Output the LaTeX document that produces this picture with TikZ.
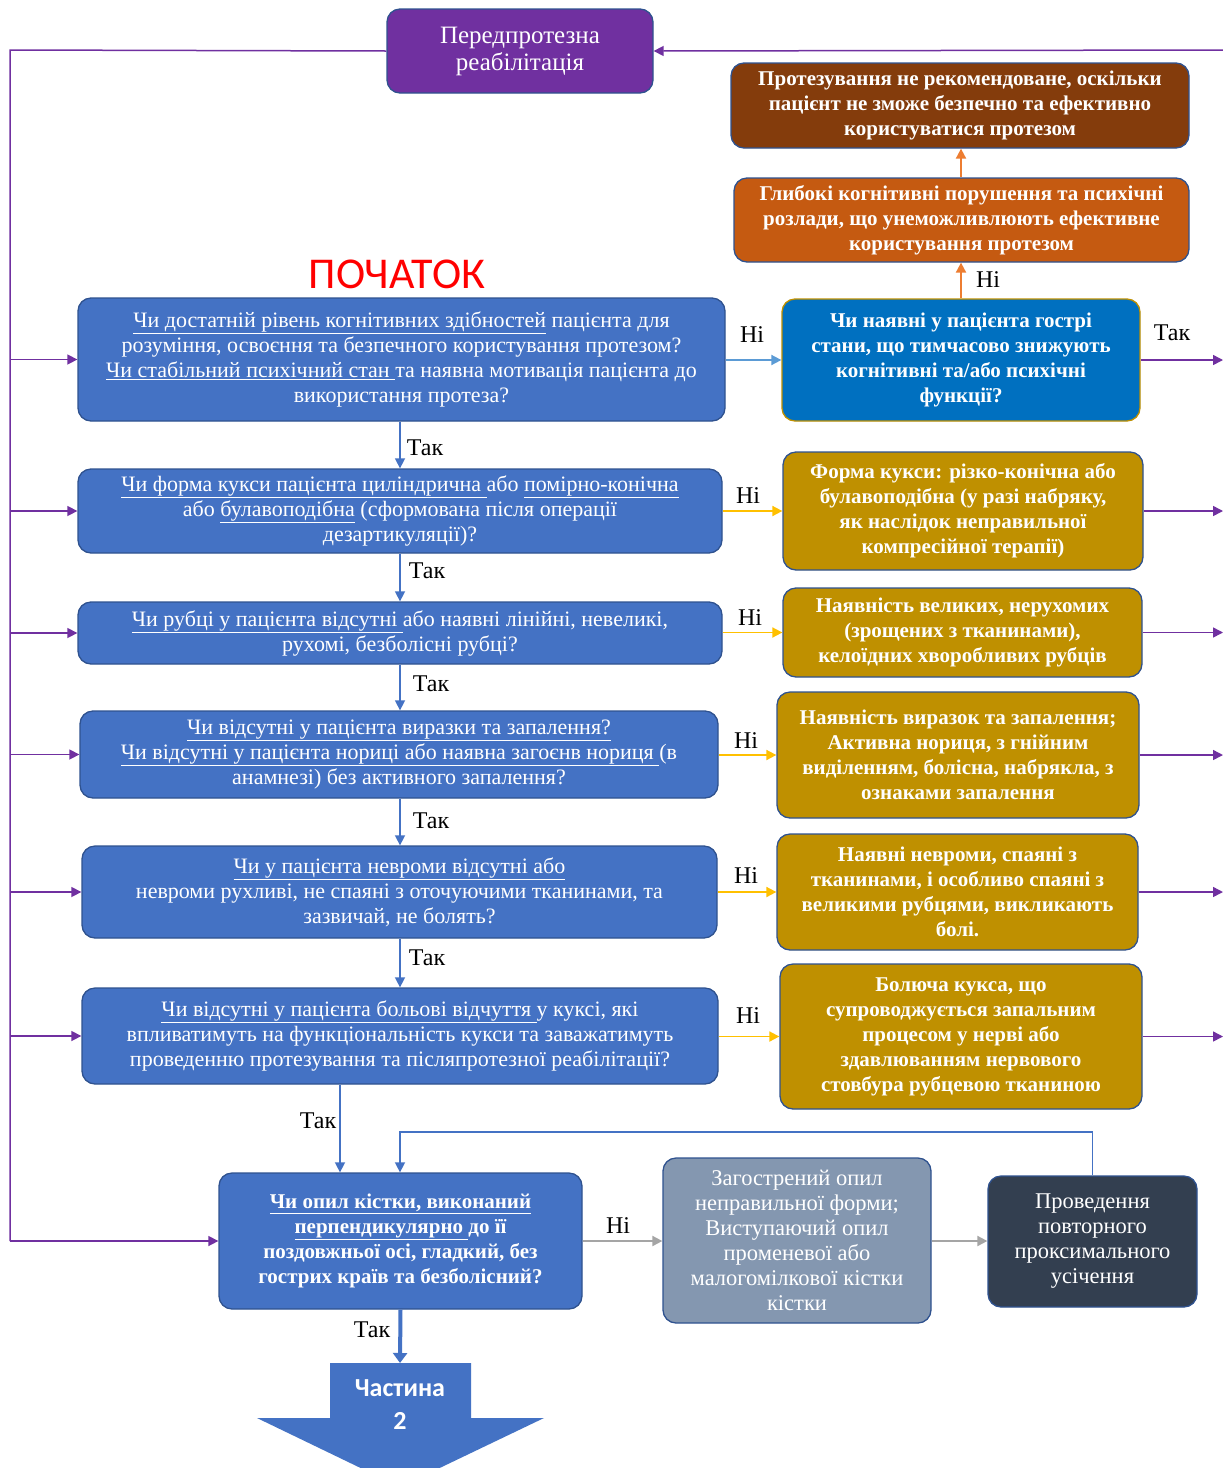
\documentclass[tikz,border=0pt]{standalone}
\usepackage{fontspec}
\setmainfont{Liberation Serif}
\newfontfamily\carlito{Carlito}
\usetikzlibrary{arrows.meta}
\definecolor{qblue}{HTML}{4472C4}
\definecolor{qborder}{HTML}{2F528F}
\definecolor{ppl}{HTML}{7030A0}
\definecolor{brn}{HTML}{843C0C}
\definecolor{orng}{HTML}{C55A11}
\definecolor{acblue}{HTML}{0070C0}
\definecolor{gold}{HTML}{BF9000}
\definecolor{gblue}{HTML}{8497B0}
\definecolor{dark}{HTML}{333F50}
\definecolor{yel}{HTML}{FFC000}
\definecolor{lblue}{HTML}{5B9BD5}
\definecolor{gry}{HTML}{A5A5A5}
\definecolor{oarr}{HTML}{ED7D31}
\tikzset{
  box/.style={rounded corners=13pt, draw=qborder, line width=1.3pt, align=center, text=white, inner sep=2pt},
  qbox/.style={box, fill=qblue, font=\fontsize{22}{25}\selectfont},
  rbox/.style={box, font=\bfseries\fontsize{21}{25}\selectfont},
  lbl/.style={font=\fontsize{24}{26}\selectfont, text=black, inner sep=0pt},
  tipp/.style={-{Triangle[length=10pt,width=10pt]}},
  parrow/.style={draw=ppl, line width=1.5pt, tipp},
  yarrow/.style={draw=yel, line width=1.8pt, tipp},
  lbarrow/.style={draw=lblue, line width=1.8pt, tipp},
  garrow/.style={draw=gry, line width=2pt, tipp},
  oarrow/.style={draw=oarr, line width=2pt, tipp},
  barrow/.style={draw=qblue, line width=1.5pt, tipp},
}
\begin{document}
\begin{tikzpicture}[x=1pt,y=-1pt]
\useasboundingbox (0,0) rectangle (1223,1468);
\clip (0,0) rectangle (1223,1468);
\fill[white] (0,0) rectangle (1223,1468);

% nodes
\node[box, fill=ppl, font=\fontsize{25}{27}\selectfont, minimum width=266pt, minimum height=84pt] (pre) at (520,51) {Передпротезна\\реабілітація};
\node[rbox, fill=brn, minimum width=458pt, minimum height=85pt] (brown) at (960,105.5) {Протезування не рекомендоване, оскільки\\пацієнт не зможе безпечно та ефективно\\користуватися протезом};
\node[rbox, fill=orng, minimum width=455pt, minimum height=84pt] (orange) at (961.5,220) {Глибокі когнітивні порушення та психічні\\розлади, що унеможливлюють ефективне\\користування протезом};
\node[text=red, font=\carlito\fontsize{44}{46}\selectfont, inner sep=0pt] (start) at (397,274) {ПОЧАТОК};

\node[qbox, minimum width=647pt, minimum height=123pt] (q1) at (401.5,359.5) {\underline{Чи достатній рівень когнітивних здібностей} пацієнта для\\розуміння, освоєння та безпечного користування протезом?\\\underline{Чи стабільний психічний стан }та наявна мотивація пацієнта до\\використання протеза?};
\node[rbox, fill=acblue, draw=gold, minimum width=358pt, minimum height=122pt] (ac) at (961,360) {Чи наявні у пацієнта гострі\\стани, що тимчасово знижують\\когнітивні та/або психічні\\функції?};

\node[qbox, minimum width=644pt, minimum height=84pt] (q2) at (400,511) {\underline{Чи форма кукси пацієнта циліндрична }або \underline{помірно-конічна}\\або \underline{булавоподібна} (сформована після операції\\дезартикуляції)?};
\node[rbox, fill=gold, minimum width=360pt, minimum height=118pt] (g2) at (963,511) {Форма кукси: різко-конічна або\\булавоподібна (у разі набряку,\\як наслідок неправильної\\компресійної терапії)};

\node[qbox, minimum width=644pt, minimum height=62pt] (q3) at (400,633) {\underline{Чи рубці у пацієнта відсутні }або наявні лінійні, невеликі,\\рухомі, безболісні рубці?};
\node[rbox, fill=gold, minimum width=359pt, minimum height=89pt] (g3) at (962.5,632.5) {Наявність великих, нерухомих\\(зрощених з тканинами),\\келоїдних хворобливих рубців};

\node[qbox, minimum width=638pt, minimum height=87pt] (q4) at (399,754.5) {\underline{Чи відсутні у пацієнта виразки та запалення?}\\\underline{Чи відсутні у пацієнта нориці або наявна загоєнв нориця }(в\\анамнезі) без активного запалення?};
\node[rbox, fill=gold, minimum width=362pt, minimum height=126pt] (g4) at (958,755) {Наявність виразок та запалення;\\Активна нориця, з гнійним\\виділенням, болісна, набрякла, з\\ознаками запалення};

\node[qbox, minimum width=635pt, minimum height=92pt] (q5) at (399.5,892) {\underline{Чи у пацієнта невроми відсутні або}\\невроми рухливі, не спаяні з оточуючими тканинами, та\\зазвичай, не болять?};
\node[rbox, fill=gold, minimum width=361pt, minimum height=116pt] (g5) at (957.5,892) {Наявні невроми, спаяні з\\тканинами, і особливо спаяні з\\великими рубцями, викликають\\болі.};

\node[qbox, minimum width=636pt, minimum height=96pt] (q6) at (400,1036) {\underline{Чи відсутні у пацієнта больові відчуття }у куксі, які\\впливатимуть на функціональність кукси та заважатимуть\\проведенню протезування та післяпротезної реабілітації?};
\node[rbox, fill=gold, minimum width=362pt, minimum height=145pt] (g6) at (961,1036.5) {Болюча кукса, що\\супроводжується запальним\\процесом у нерві або\\здавлюванням нервового\\стовбура рубцевою тканиною};

\node[rbox, fill=qblue, minimum width=363pt, minimum height=136pt] (q7) at (400.5,1241) {\underline{Чи опил кістки, виконаний}\\\underline{перпендикулярно }до її\\поздовжньої осі, гладкий, без\\гострих країв та безболісний?};
\node[box, fill=gblue, font=\fontsize{22.5}{25}\selectfont, minimum width=268pt, minimum height=165pt] (grey) at (797,1240.5) {Загострений опил\\неправильної форми;\\Виступаючий опил\\променевої або\\малогомілкової кістки\\кістки};
\node[box, fill=dark, font=\fontsize{22.5}{25}\selectfont, minimum width=209pt, minimum height=131pt] (dk) at (1092.5,1241.5) {Проведення\\повторного\\проксимального\\усічення};

% block arrow "Частина 2"
\fill[qblue] (330,1363) -- (471,1363) -- (471,1418) -- (544,1418) -- (400,1487) -- (257,1418) -- (330,1418) -- cycle;
\coordinate (p2top) at (400,1363);
\node[text=white, font=\carlito\bfseries\fontsize{26}{33}\selectfont, align=center, inner sep=0pt] (part2) at (400,1405) {Частина\\2};

% coordinates
\coordinate (lt) at (10,50);
\coordinate (lb) at (10,1241);
\coordinate (re) at (1223,50);
\coordinate (c67) at (340,1100);
\coordinate (lp) at (400,1132);

% left purple feedback
\draw[ppl, line width=1.5pt] (pre.west) -- (lt) -- (lb);
\draw[parrow] (lb) -- (q7.west);
\foreach \n in {q1,q2,q3,q4,q5,q6}{\draw[parrow] (lt |- \n.west) -- (\n.west);}
% right purple
\draw[parrow] (re) -- (pre.east);
\draw[parrow] (ac.east) -- (ac.east -| re);
\foreach \n in {g2,g3,g4,g5,g6}{\draw[parrow] (\n.east) -- (\n.east -| re);}

% no-branches
\draw[lbarrow] (q1.east |- ac.west) -- (ac.west);
\draw[oarrow] (ac.north) -- (orange.south -| ac.north);
\draw[oarrow] (orange.north -| ac.north) -- (brown.south -| ac.north);
\draw[yarrow] (q2.east |- g2.west) -- (g2.west);
\draw[yarrow] (q3.east |- g3.west) -- (g3.west);
\draw[yarrow] (q4.east |- g4.west) -- (g4.west);
\draw[yarrow] (q5.east |- g5.west) -- (g5.west);
\draw[yarrow] (q6.east |- g6.west) -- (g6.west);
\draw[garrow] (q7.east) -- (grey.west |- q7.east);
\draw[garrow] (grey.east |- q7.east) -- (dk.west |- q7.east);

% yes-branches
\draw[barrow] (q1.south -| q2.north) -- (q2.north);
\draw[barrow] (q2.south) -- (q3.north);
\draw[barrow] (q3.south) -- (q4.north -| q3.south);
\draw[barrow] (q4.south -| q3.south) -- (q5.north -| q3.south);
\draw[barrow] (q5.south -| q3.south) -- (q6.north -| q3.south);
\draw[barrow] (q6.south -| c67) -- (q7.north -| c67);
\draw[barrow] (dk.north) |- (lp) -- (lp |- q7.north);
\draw[draw=qblue, line width=4pt, -{Triangle[length=10pt,width=14pt]}] (q7.south) -- (p2top);

% labels
\node[lbl] (l1) at (752,335) {Ні};
\node[lbl] (l2) at (1172,333) {Так};
\node[lbl] (l3) at (988,280) {Ні};
\node[lbl] (l4) at (425,448) {Так};
\node[lbl] (l5) at (748,496) {Ні};
\node[lbl] (l6) at (427,571) {Так};
\node[lbl] (l7) at (750,618) {Ні};
\node[lbl] (l8) at (431,684) {Так};
\node[lbl] (l9) at (746,741) {Ні};
\node[lbl] (l10) at (431,821) {Так};
\node[lbl] (l11) at (746,876) {Ні};
\node[lbl] (l12) at (427,958) {Так};
\node[lbl] (l13) at (748,1016) {Ні};
\node[lbl] (l14) at (318,1121) {Так};
\node[lbl] (l15) at (618,1226) {Ні};
\node[lbl] (l16) at (372,1330) {Так};
\end{tikzpicture}
\end{document}
